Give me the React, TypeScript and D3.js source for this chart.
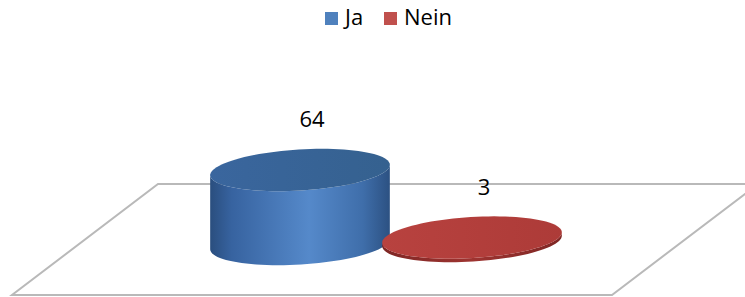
import { useEffect, useRef } from "react";
import * as d3 from "d3";

// chart data
const categories = ["Ja", "Nein"];
const values = [64, 3];
const seriesColors = ["#4f81bd", "#c0504d"];

const width = 745;
const height = 297;

type Pt = [number, number];

// points of a tilted ellipse between two angles
function ellipsePts(cx: number, cy: number, rx: number, ry: number, rot: number, t0: number, t1: number, n = 48): Pt[] {
  const c = Math.cos(rot);
  const s = Math.sin(rot);
  return d3.range(n + 1).map((i) => {
    const t = t0 + ((t1 - t0) * i) / n;
    return [
      cx + rx * Math.cos(t) * c - ry * Math.sin(t) * s,
      cy + rx * Math.cos(t) * s + ry * Math.sin(t) * c,
    ] as Pt;
  });
}

export default function App() {
  const svgRef = useRef<SVGSVGElement>(null);

  useEffect(() => {
    const svg = d3.select(svgRef.current).attr("viewBox", [0, 0, width, height]);
    svg.selectAll("*").remove();

    const font = "'Open Sans', 'Noto Sans', sans-serif";

    // Gradients
    const defs = svg.append("defs");
    const bodyGrad = (id: string, stops: [number, string][]) => {
      const g = defs.append("linearGradient").attr("id", id).attr("x1", "0%").attr("x2", "100%").attr("y1", "0%").attr("y2", "0%");
      stops.forEach(([o, c]) => g.append("stop").attr("offset", `${o}%`).attr("stop-color", c));
    };
    bodyGrad("side0", [[0, "#2a4e7e"], [12, "#3763a0"], [55, "#5589ca"], [85, "#3f6eaa"], [100, "#2c5182"]]);
    bodyGrad("top0", [[0, "#3a669e"], [100, "#35618f"]]);
    bodyGrad("side1", [[0, "#7e2624"], [50, "#9e3431"], [100, "#7e2624"]]);
    bodyGrad("top1", [[0, "#b8423f"], [100, "#ad3b38"]]);

    // Floor
    const floor: Pt[] = [[12, 295], [612, 295], [758, 184], [158, 184]];
    svg
      .append("path")
      .attr("d", d3.line()(floor) + "Z")
      .attr("fill", "white")
      .attr("stroke", "#b9b9b9")
      .attr("stroke-width", 2);

    // Scales
    const xScale = d3.scalePoint<string>().domain(categories).range([300, 472]);
    const hScale = d3.scaleLinear().domain([0, 64]).range([0, 74]);
    const tilt = -0.0175;
    const baseY = (x: number) => 244 + (x - 300) * tilt;
    const rx = 90;
    const ry = 20.5;
    const rot = (-3.5 * Math.PI) / 180;

    const line = d3.line();

    categories.forEach((cat, i) => {
      const cx = xScale(cat) as number;
      const by = baseY(cx);
      const ty = by - hScale(values[i]);
      const g = svg.append("g");

      // body
      const bottomFront = ellipsePts(cx, by, rx, ry, rot, Math.PI, 0);
      const topFront = ellipsePts(cx, ty, rx, ry, rot, 0, Math.PI);
      g.append("path")
        .attr("d", line([...bottomFront, ...topFront]) + "Z")
        .attr("fill", `url(#side${i})`);

      // top face
      g.append("path")
        .attr("d", line(ellipsePts(cx, ty, rx, ry, rot, 0, 2 * Math.PI, 96)) + "Z")
        .attr("fill", `url(#top${i})`);

      // value label
      svg
        .append("text")
        .attr("x", cx + 12)
        .attr("y", ty - 43)
        .attr("text-anchor", "middle")
        .attr("font-family", font)
        .attr("font-size", 22)
        .attr("fill", "#000")
        .text(values[i]);
    });

    // Legend
    const legendX = [325, 384];
    categories.forEach((cat, i) => {
      svg
        .append("rect")
        .attr("x", legendX[i])
        .attr("y", 12)
        .attr("width", 13)
        .attr("height", 13)
        .attr("fill", seriesColors[i]);
      svg
        .append("text")
        .attr("x", legendX[i] + 20)
        .attr("y", 25)
        .attr("font-family", font)
        .attr("font-size", 22)
        .attr("fill", "#000")
        .text(cat);
    });
  }, []);

  return (
    <svg
      ref={svgRef}
      width={width}
      height={height}
      style={{ position: "absolute", left: 0, top: 0, background: "white" }}
    />
  );
}
